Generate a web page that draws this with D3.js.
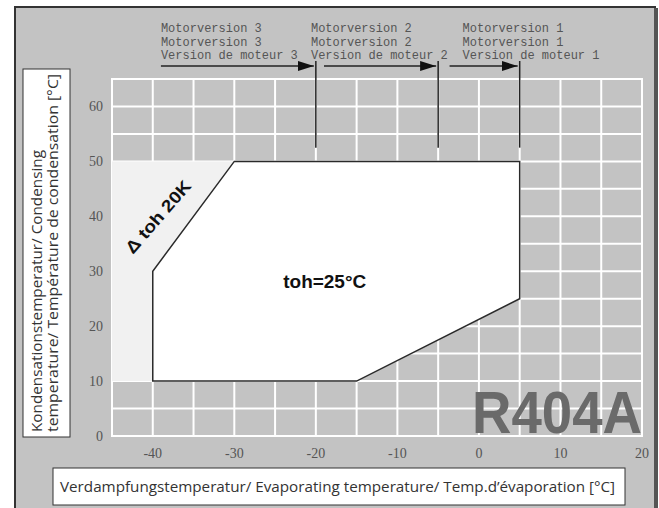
<!DOCTYPE html>
<html>
<head>
<meta charset="utf-8">
<script src="https://cdn.jsdelivr.net/npm/d3@7"></script>
<style>
  body { margin: 0; background: #fff; }
  svg { display: block; }
</style>
</head>
<body>
<div id="chart"></div>
<script>
var width = 659,
    height = 508;

// axis ticks
var xTicks = [-40, -30, -20, -10, 0, 10, 20];
var yTicks = [0, 10, 20, 30, 40, 50, 60];

// operating envelope toh=25°C (evap, cond)
var envelope = [[-40, 10], [-40, 30], [-30, 50], [5, 50], [5, 25], [-15, 10]];
// extra area for toh 20K
var extraArea = [[-45, 10], [-45, 50], [-30, 50], [-40, 30], [-40, 10]];

// motor versions
var motorNames = ["3", "2", "1"];
var motorLimit = [-20, -5, 5];
var arrowFrom = [-39, -19, -3.6];
var labelFrom = [-39, -20.6, -2];
var motorLineBottom = 52.5;

var x = d3.scaleLinear().domain([-45, 20]).range([112, 642]);
var y = d3.scaleLinear().domain([0, 65]).range([436, 79]);

var svg = d3.select("#chart").append("svg")
    .attr("width", width)
    .attr("height", height);

// frame
svg.append("rect")
    .attr("x", 15).attr("y", 7)
    .attr("width", 640).attr("height", 520)
    .attr("fill", "#c3c3c3")
    .attr("stroke", "#333")
    .attr("stroke-width", 2);
svg.append("line")
    .attr("x1", 656).attr("x2", 656)
    .attr("y1", 8).attr("y2", height)
    .attr("stroke", "#555").attr("stroke-width", 4);

var defs = svg.append("defs");
defs.append("marker")
    .attr("id", "arrow")
    .attr("viewBox", "0 0 16 10")
    .attr("refX", 16).attr("refY", 5)
    .attr("markerWidth", 16).attr("markerHeight", 10)
    .attr("markerUnits", "userSpaceOnUse")
    .attr("orient", "auto")
  .append("path")
    .attr("d", "M0,0L16,5L0,10Z")
    .attr("fill", "#111");

// grid
var grid = svg.append("g");
grid.selectAll(".vl")
    .data(d3.range(-45, 20.1, 5))
    .enter().append("line")
    .attr("x1", function(d) { return x(d); })
    .attr("x2", function(d) { return x(d); })
    .attr("y1", y(0) + 1).attr("y2", y(65) - 1)
    .attr("stroke", "#fff").attr("stroke-width", 2);
grid.selectAll(".hl")
    .data(d3.range(0, 65.1, 5))
    .enter().append("line")
    .attr("x1", x(-45) - 1).attr("x2", x(20) + 1)
    .attr("y1", function(d) { return y(d); })
    .attr("y2", function(d) { return y(d); })
    .attr("stroke", "#fff").attr("stroke-width", 2);

var line = d3.line()
    .x(function(d) { return x(d[0]); })
    .y(function(d) { return y(d[1]); });

svg.append("path")
    .attr("d", line(extraArea) + "Z")
    .attr("fill", "#f1f1f1");

svg.append("path")
    .attr("d", line(envelope) + "Z")
    .attr("fill", "#fff")
    .attr("stroke", "#2a2a2a")
    .attr("stroke-width", 1.5);

// R404A
svg.append("text")
    .attr("x", x(20)).attr("y", y(0) - 3)
    .attr("text-anchor", "end")
    .attr("font-family", "Liberation Sans, Arial, sans-serif")
    .attr("font-weight", "bold")
    .attr("font-size", 60)
    .attr("textLength", 170)
    .attr("lengthAdjust", "spacingAndGlyphs")
    .attr("fill", "#6a6a6a")
    .text("R404A");

svg.append("text")
    .attr("x", x(-24)).attr("y", y(26.9))
    .attr("font-family", "Liberation Sans, Arial, sans-serif")
    .attr("font-weight", "bold")
    .attr("font-size", 18)
    .attr("textLength", 83)
    .attr("lengthAdjust", "spacingAndGlyphs")
    .attr("fill", "#111")
    .text("toh=25°C");

svg.append("text")
    .attr("transform", "translate(" + x(-38.8) + "," + y(39.2) + ") rotate(-49)")
    .attr("text-anchor", "middle")
    .attr("font-family", "Liberation Sans, Arial, sans-serif")
    .attr("font-weight", "bold")
    .attr("font-size", 17)
    .attr("textLength", 90)
    .attr("lengthAdjust", "spacingAndGlyphs")
    .attr("fill", "#111")
    .text("\u0394 toh 20K");

// motor versions
var arrowY = 66;
var motors = svg.append("g");
motorNames.forEach(function(n, i) {
  motors.append("line")
      .attr("x1", x(motorLimit[i])).attr("x2", x(motorLimit[i]))
      .attr("y1", arrowY - 5).attr("y2", y(motorLineBottom))
      .attr("stroke", "#222").attr("stroke-width", 1.5);
  motors.append("line")
      .attr("x1", x(arrowFrom[i])).attr("x2", x(motorLimit[i]) - 2)
      .attr("y1", arrowY).attr("y2", arrowY)
      .attr("stroke", "#222").attr("stroke-width", 1.5)
      .attr("marker-end", "url(#arrow)");
  var t = motors.append("text")
      .attr("font-family", "Liberation Mono, Courier New, monospace")
      .attr("font-size", 12)
      .attr("fill", "#555");
  ["Motorversion " + n, "Motorversion " + n, "Version de moteur " + n].forEach(function(s, j) {
    t.append("tspan")
        .attr("x", x(labelFrom[i]))
        .attr("y", 32 + j * 13.5)
        .text(s);
  });
});

// tick labels
svg.append("g").selectAll("text")
    .data(yTicks)
    .enter().append("text")
    .attr("x", 103)
    .attr("y", function(d) { return y(d) + 5; })
    .attr("text-anchor", "end")
    .attr("font-family", "Liberation Serif, Times New Roman, serif")
    .attr("font-size", 14)
    .attr("fill", "#555")
    .text(function(d) { return d; });

svg.append("g").selectAll("text")
    .data(xTicks)
    .enter().append("text")
    .attr("x", function(d) { return x(d); })
    .attr("y", 458)
    .attr("text-anchor", "middle")
    .attr("font-family", "Liberation Serif, Times New Roman, serif")
    .attr("font-size", 14)
    .attr("fill", "#555")
    .text(function(d) { return d; });

// axis title boxes
svg.append("rect")
    .attr("x", 53).attr("y", 468)
    .attr("width", 572).attr("height", 37)
    .attr("fill", "#fff").attr("stroke", "#333").attr("stroke-width", 1);
svg.append("text")
    .attr("x", 60).attr("y", 492)
    .attr("font-family", "Open Sans, sans-serif")
    .attr("font-size", 14)
    .attr("textLength", 555)
    .attr("lengthAdjust", "spacingAndGlyphs")
    .attr("fill", "#333")
    .text("Verdampfungstemperatur/ Evaporating temperature/ Temp.d\u2019\u00e9vaporation [\u00b0C]");

svg.append("rect")
    .attr("x", 23).attr("y", 69)
    .attr("width", 47).attr("height", 368)
    .attr("fill", "#fff").attr("stroke", "#333").attr("stroke-width", 1);
var yt = svg.append("text")
    .attr("transform", "translate(0,432) rotate(-90)")
    .attr("font-family", "Open Sans, sans-serif")
    .attr("font-size", 14)
    .attr("fill", "#333");
yt.append("tspan").attr("x", 0).attr("y", 42)
    .attr("textLength", 282).attr("lengthAdjust", "spacingAndGlyphs")
    .text("Kondensationstemperatur/ Condensing");
yt.append("tspan").attr("x", 0).attr("y", 58)
    .attr("textLength", 358).attr("lengthAdjust", "spacingAndGlyphs")
    .text("temperature/ Temp\u00e9rature de condensation [\u00b0C]");
</script>
</body>
</html>
